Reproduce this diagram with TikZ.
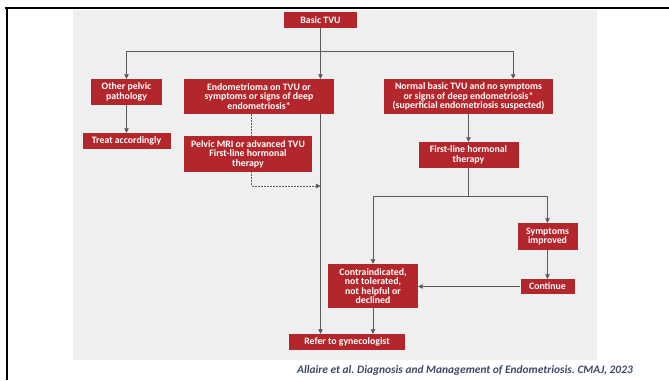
\documentclass[tikz,border=0pt]{standalone}
\usepackage{fontspec}
\setmainfont{Carlito}
\frenchspacing
\usetikzlibrary{arrows.meta,calc}
\definecolor{boxred}{HTML}{B3272C}
\definecolor{panel}{HTML}{EEEFEF}
\definecolor{linegray}{HTML}{5A5A5A}
\definecolor{captionblue}{HTML}{3E4A66}
\begin{document}
\begin{tikzpicture}[x=1pt,y=-1pt,
  box/.style={fill=boxred,text=white,font=\bfseries\fontsize{9.8}{9.4}\selectfont,align=center,inner sep=0pt},
  conn/.style={draw=linegray,line width=0.8pt},
  arr/.style={conn,-{Triangle[length=4.5pt,width=4.5pt]}},
  dsh/.style={draw=linegray,line width=0.8pt,dash pattern=on 1.5pt off 1.5pt,-{Triangle[length=4.5pt,width=4.5pt]}}]
\useasboundingbox (0,0) rectangle (669,380);
\fill[white] (0,0) rectangle (669,380);
\fill[panel] (73,10) rectangle (597,360);
\draw[line width=2pt] (5,7.5) -- (669,7.5);
\draw[line width=2pt] (6.5,7) -- (6.5,380);

\node[box,minimum width=73pt,minimum height=16pt] (basic) at (320.5,20) {Basic TVU};
\node[box,minimum width=71pt,minimum height=26pt] (other) at (126.5,92) {Other pelvic\\pathology};
\node[box,minimum width=150pt,minimum height=35pt] (endo) at (259,96.5) {Endometrioma on TVU or\\symptoms or signs of deep\\endometriosis*};
\node[box,minimum width=169pt,minimum height=35pt] (normal) at (468.5,96.5) {Normal basic TVU and no symptoms\\or signs of deep endometriosis*\\(superficial endometriosis suspected)};
\node[box,minimum width=88pt,minimum height=16pt] (treat) at (126.5,141) {Treat accordingly};
\coordinate (dashend) at (320.5,186);
\draw[dsh] ($(endo.south west)+(68,0)$) |- (dashend);
\node[box,minimum width=128pt,minimum height=36pt] (mri) at (248,154) {Pelvic MRI or advanced TVU\\First-line hormonal\\therapy};
\node[box,minimum width=100pt,minimum height=26pt] (first) at (468.5,155) {First-line hormonal\\therapy};
\node[box,minimum width=60pt,minimum height=27pt] (symp) at (547.5,236.5) {Symptoms\\improved};
\node[box,minimum width=54pt,minimum height=15pt] (cont) at (547.5,286.5) {Continue};
\node[box,minimum width=90pt,minimum height=44pt] (contra) at (373,286) {Contraindicated,\\not tolerated,\\not helpful or\\declined};
\node[box,minimum width=116pt,minimum height=16pt] (refer) at (347,342) {Refer to gynecologist};

\draw[arr] (basic.south) -- (basic.south |- endo.north);
\coordinate (split) at (320.5,51);
\draw[arr] (split) -| (other.north);
\draw[arr] (split) -| ($(normal.north east)+(-40,0)$);
\draw[arr] (other.south) -- (other.south |- treat.north);
\draw[arr] (basic.south |- endo.south) -- (basic.south |- refer.north);
\draw[arr] (normal.south) -- (first.north);
\draw[conn] (first.south) -- ++(0,28) coordinate (split2);
\draw[arr] (split2) -| (contra.north);
\draw[arr] (split2) -| (symp.north);
\draw[arr] (symp.south) -- (cont.north);
\draw[arr] (cont.west) -- (cont.west -| contra.east);
\draw[arr] (contra.south) -- (contra.south |- refer.north);

\node[anchor=east,text=captionblue,font=\bfseries\itshape\fontsize{11.4}{13}\selectfont,inner sep=0pt] (cap) at (633,370) {Allaire et al. Diagnosis and Management of Endometriosis. CMAJ, 2023};
\end{tikzpicture}
\end{document}
